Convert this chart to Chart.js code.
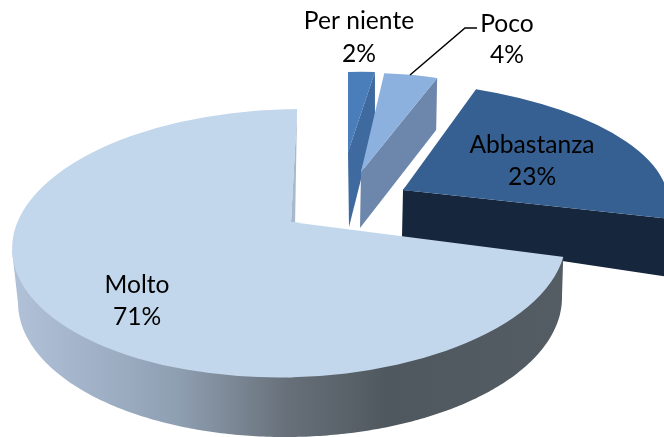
<!DOCTYPE html>
<html><head><meta charset="utf-8">
<style>html,body{margin:0;padding:0;background:#fff}canvas{display:block}</style>
<script src="https://cdn.jsdelivr.net/npm/chart.js@4/dist/chart.umd.min.js"></script>
</head><body><canvas id="c" width="664" height="437"></canvas>
<script>
const categories = ['Per niente', 'Poco', 'Abbastanza', 'Molto'];
const percentValues = [2, 4, 23, 71];
const topColors = ['#4a7ebb', '#8db1de', '#376092', '#c3d7ec'];

// Projection of each exploded slice: where its tip lands and how the disc is foreshortened.
const sliceViews = [
  {x:348,y:152,r:215,up:80,bUp:0,dR:-5, edge:{color:'#3e6a9f',rim:[0,52],tip:[1,75]}},
  {x:361,y:172,r:217,up:99,bUp:-4,dR:-5, edge:{color:'#6d86ab',rim:[-1,52],tip:[-1,56]}},
  {x:403,y:190,r:264,up:109,bUp:-26,dR:1.4, edge:{color:'#16263c',rim:[0,58],tip:[-1,47]}},
  {x:291,y:222,r:300,up:130,down:180,bUp:7,bDown:0,dR:-7.7,dL:-12,
   rimEllipse:{x:289,y:243.3,rx:277,ry:134,rot:-0.024},
   edge:{color:'#a9b9cd',rim:[-2,113],tip:[4,1],flat:true},
   side:{bottom:{x:290,y:300,rx:272,ry:137,rot:-0.012},
         stops:[[0,'#b0c1d8'],[.13,'#a3b4ca'],[.3,'#8f9fb2'],[.5,'#677079'],[.68,'#50585f'],[1,'#545c64']]}}
];
const labelPlaces = [
  {x:359,y:21,y2:54},{x:507,y:24,y2:55},{x:532,y:145,y2:177},{x:137,y:285,y2:317}
];
const leader = [[410,75],[465,28],[477,28]];
const labelFont = '24.6px Lato';

function mapPoint(v, th) {
  const s = Math.sin(th), c = Math.cos(th);
  const A = s >= 0 ? v.r : (v.l ?? v.r);
  const C = c >= 0 ? v.up : (v.down ?? v.up);
  const B = c >= 0 ? (v.bUp||0) : (v.bDown ?? v.bUp ?? 0);
  const D = s >= 0 ? (v.dR||0) : (v.dL ?? v.dR ?? 0);
  return [v.x + A*s + B*c, v.y + D*s - C*c];
}
function inEllipse(e, p) {
  const dx=p[0]-e.x, dy=p[1]-e.y, c=Math.cos(e.rot), s=Math.sin(e.rot);
  const a=(dx*c+dy*s)/e.rx, b=(-dx*s+dy*c)/e.ry;
  return a*a+b*b<=1;
}
function rimPoint(v, th) {
  const m = mapPoint(v, th);
  if (!v.rimEllipse) return m;
  let lo=0, hi=1;
  for (let i=0;i<30;i++){
    const t=(lo+hi)/2, p=[v.x+(m[0]-v.x)*t, v.y+(m[1]-v.y)*t];
    if (inEllipse(v.rimEllipse,p)) lo=t; else hi=t;
  }
  return [v.x+(m[0]-v.x)*lo, v.y+(m[1]-v.y)*lo];
}
function poly(ctx, pts, fill) {
  ctx.beginPath();
  pts.forEach((p,i)=> i ? ctx.lineTo(p[0],p[1]) : ctx.moveTo(p[0],p[1]));
  ctx.closePath(); ctx.fillStyle = fill; ctx.fill();
}
function drawTop(ctx, arc, v) {
  const R = arc.outerRadius, E = R + 2, o = 2;
  ctx.save();
  if (v.rimEllipse) {
    const e=v.rimEllipse;
    ctx.beginPath(); ctx.ellipse(e.x,e.y,e.rx,e.ry,e.rot,0,Math.PI*2); ctx.clip();
  }
  [[1,-1],[1,1],[-1,1],[-1,-1]].forEach(([su,sv]) => {
    const A = su>0 ? v.r : (v.l ?? v.r);
    const D = su>0 ? (v.dR||0) : (v.dL ?? v.dR ?? 0);
    const C = sv<0 ? v.up : (v.down ?? v.up);
    const B = sv<0 ? (v.bUp||0) : (v.bDown ?? v.bUp ?? 0);
    ctx.save();
    ctx.transform(A/R, D/R, -B/R, C/R, v.x, v.y);
    ctx.beginPath();
    ctx.rect(su>0 ? -o : -E, sv>0 ? -o : -E, E+o, E+o);
    ctx.clip();
    ctx.translate(-arc.x, -arc.y);
    arc.draw(ctx);
    ctx.restore();
  });
  ctx.restore();
}
const pie3d = {
  id:'pie3d',
  beforeDatasetsDraw(chart) {
    const ctx = chart.ctx, arcs = chart.getDatasetMeta(0).data;
    arcs.forEach((arc,i) => {
      const v = sliceViews[i];
      const t0 = arc.startAngle + Math.PI/2, t1 = arc.endAngle + Math.PI/2;
      if (v.side) {
        const g = ctx.createLinearGradient(12,0,564,0);
        v.side.stops.forEach(s=>g.addColorStop(s[0],s[1]));
        const b=v.side.bottom, cr=Math.cos(b.rot), sr=Math.sin(b.rot);
        const pts=[rimPoint(v,t0)];
        for (let k=0;k<=240;k++){
          const f=Math.PI*k/240, ex=b.rx*Math.cos(f), ey=b.ry*Math.sin(f);
          pts.push([b.x+ex*cr-ey*sr, b.y+ex*sr+ey*cr]);
        }
        pts.push([12,250]);
        poly(ctx,pts,g);
      }
      if (v.edge) {
        const e=v.edge, rim=rimPoint(v,t1), tip=[v.x,v.y];
        poly(ctx,[tip,rim,[rim[0]+e.rim[0],rim[1]+e.rim[1]],[tip[0]+e.tip[0],tip[1]+e.tip[1]]],e.color);
      }
      drawTop(ctx,arc,v);
    });
    ctx.save();
    ctx.strokeStyle='#000'; ctx.lineWidth=1.5; ctx.beginPath();
    leader.forEach((p,i)=> i?ctx.lineTo(p[0],p[1]):ctx.moveTo(p[0],p[1])); ctx.stroke();
    ctx.fillStyle='#000'; ctx.font=labelFont; ctx.textAlign='center'; ctx.textBaseline='middle';
    categories.forEach((c,i)=>{
      const p=labelPlaces[i];
      ctx.fillText(c,p.x,p.y);
      ctx.fillText(percentValues[i]+'%',p.x,p.y2);
    });
    ctx.restore();
    return false;
  }
};
new Chart(document.getElementById('c'),{
  type:'pie',
  data:{labels:categories,datasets:[{data:percentValues,backgroundColor:topColors,borderWidth:0}]},
  options:{responsive:false,animation:false,rotation:0,
    layout:{padding:0},
    plugins:{legend:{display:false},tooltip:{enabled:false},title:{display:false}}},
  plugins:[pie3d]
});
</script></body></html>
